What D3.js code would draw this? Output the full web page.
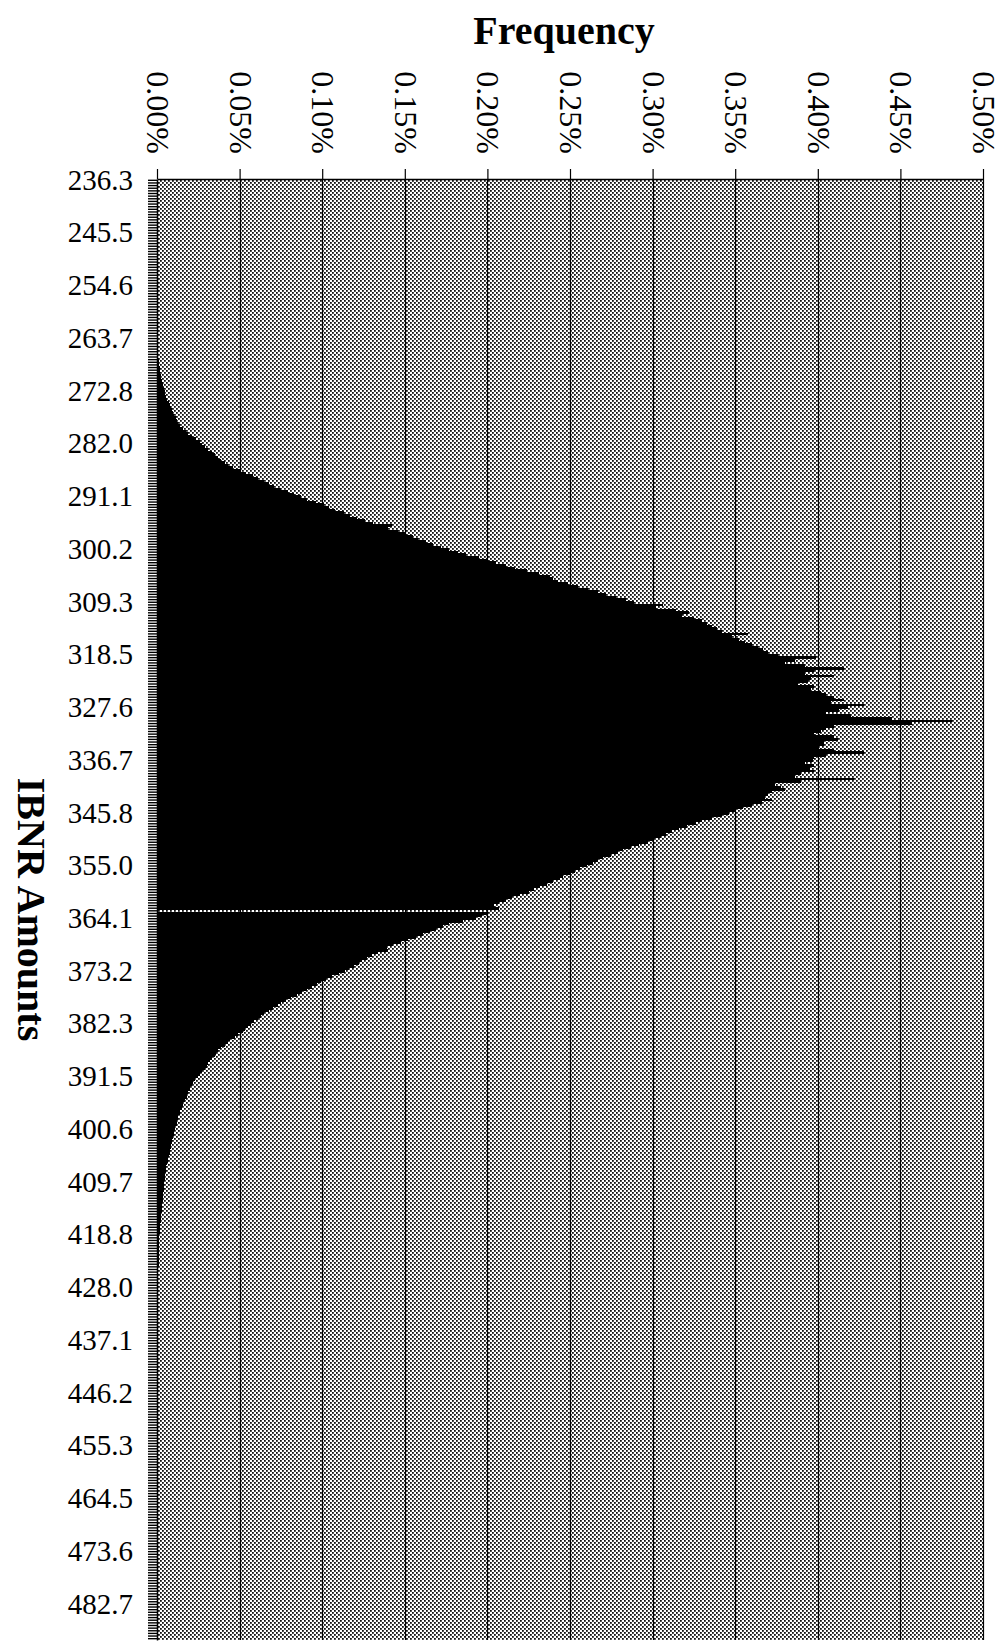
<!DOCTYPE html>
<html>
<head>
<meta charset="utf-8">
<script src="https://cdn.jsdelivr.net/npm/d3@7"></script>
<style>
  body { margin: 0; background: #fff; }
  svg { display: block; }
</style>
</head>
<body>
<svg id="chart"></svg>
<script>
// category labels shown on the IBNR axis (one every 20 bins)
const amountLabels = ["236.3","245.5","254.6","263.7","272.8","282.0","291.1","300.2","309.3","318.5",
  "327.6","336.7","345.8","355.0","364.1","373.2","382.3","391.5","400.6","409.7",
  "418.8","428.0","437.1","446.2","455.3","464.5","473.6","482.7"];
const binsPerLabel = 20;

// frequency axis ticks (percent)
const freqTicks = [0, 0.05, 0.10, 0.15, 0.20, 0.25, 0.30, 0.35, 0.40, 0.45, 0.50];
const freqLabels = ["0.00%","0.05%","0.10%","0.15%","0.20%","0.25%","0.30%","0.35%","0.40%","0.45%","0.50%"];

// frequency of each bin, in percent; one row per labelled group
const binValues = [
  // 236.3
  0,0,0,0,0,0,0,0,0,0,0,0,0,0,0,0,0,0,0,0,
  // 245.5
  0,0,0,0,0,0,0,0,0,0,0,0,0,0,0,0,0,0,0,0,
  // 254.6
  0,0,0,0,0,0,0,0,0,0,0,0,0,0,0,0,0,0,0,0,
  // 263.7
  0,0,0,0,0.0005,0.0006,0.0008,0.0009,0.001,0.0012,0.0014,0.0016,0.0018,0.002,0.0023,0.0027,0.003,0.0034,0.0038,0.0043,
  // 272.8
  0.0047,0.005,0.0056,0.0062,0.007,0.0076,0.0082,0.009,0.0097,0.0104,0.0112,0.012,0.013,0.0142,0.0158,0.0175,0.019,0.021,0.0235,0.026,
  // 282.0
  0.0275,0.029,0.031,0.033,0.035,0.037,0.039,0.041,0.043,0.046,0.05,0.054,0.058,0.061,0.065,0.068,0.071,0.075,0.079,0.083,
  // 291.1
  0.087,0.091,0.096,0.101,0.104,0.108,0.113,0.117,0.121,0.126,0.131,0.142,0.14,0.146,0.151,0.155,0.158,0.163,0.167,0.172,
  // 300.2
  0.177,0.182,0.187,0.195,0.2,0.205,0.211,0.217,0.224,0.231,0.238,0.24,0.243,0.249,0.255,0.261,0.267,0.272,0.278,0.284,
  // 309.3
  0.289,0.306,0.302,0.314,0.322,0.318,0.325,0.33,0.333,0.336,0.339,0.342,0.358,0.348,0.352,0.356,0.36,0.364,0.367,0.37,
  // 318.5
  0.376,0.399,0.386,0.38,0.392,0.416,0.398,0.392,0.41,0.396,0.394,0.388,0.398,0.396,0.402,0.405,0.41,0.416,0.408,0.428,
  // 327.6
  0.418,0.413,0.405,0.42,0.445,0.481,0.457,0.41,0.405,0.402,0.398,0.41,0.412,0.404,0.404,0.4,0.41,0.428,0.405,0.398,
  // 336.7
  0.397,0.392,0.398,0.395,0.398,0.39,0.386,0.422,0.39,0.374,0.378,0.38,0.372,0.37,0.368,0.372,0.366,0.36,0.355,0.35,
  // 345.8
  0.346,0.342,0.336,0.33,0.326,0.321,0.316,0.312,0.308,0.305,0.3,0.297,0.292,0.287,0.282,0.279,0.275,0.27,0.267,0.264,
  // 355.0
  0.26,0.256,0.253,0.25,0.246,0.244,0.24,0.236,0.232,0.228,0.225,0.22,0.215,0.211,0.207,0.204,0.207,0,0.2,0.197,
  // 364.1
  0.193,0.185,0.177,0.173,0.169,0.165,0.161,0.157,0.152,0.148,0.143,0.139,0.14,0.134,0.13,0.127,0.124,0.122,0.119,0.116,
  // 373.2
  0.114,0.11,0.106,0.102,0.099,0.097,0.094,0.091,0.088,0.085,0.081,0.078,0.075,0.073,0.07,0.068,0.065,0.063,0.061,0.059,
  // 382.3
  0.057,0.055,0.053,0.052,0.049,0.047,0.044,0.043,0.041,0.039,0.037,0.036,0.035,0.033,0.032,0.031,0.03,0.029,0.027,0.026,
  // 391.5
  0.025,0.023,0.022,0.021,0.02,0.02,0.019,0.018,0.018,0.017,0.016,0.016,0.015,0.014,0.014,0.013,0.013,0.012,0.012,0.011,
  // 400.6
  0.011,0.01,0.01,0.0095,0.009,0.0088,0.0085,0.0082,0.008,0.0076,0.0072,0.0068,0.0064,0.006,0.0057,0.0055,0.0053,0.0051,0.0049,0.0047,
  // 409.7
  0.0045,0.0044,0.0042,0.004,0.0039,0.0037,0.0036,0.0035,0.0033,0.0032,0.003,0.0029,0.0027,0.0026,0.0025,0.0023,0.0021,0.002,0.0018,0.0017,
  // 418.8
  0.0015,0.0015,0.0014,0.0014,0.0013,0.0013,0.0012,0.0012,0.0011,0.0011,0.001,0.001,0.0009,0.0009,0.0008,0.0008,0.0007,0.0007,0.0006,0.0006,
  // 428.0
  0.0005,0.0005,0.0004,0.0004,0.0003,0.0003,0.0002,0.0002,0.0001,0.0001,0,0,0,0,0,0,0,0,0,0,
  // 437.1
  0,0,0,0,0,0,0,0,0,0,0,0,0,0,0,0,0,0,0,0,
  // 446.2
  0,0,0,0,0,0,0,0,0,0,0,0,0,0,0,0,0,0,0,0,
  // 455.3
  0,0,0,0,0,0,0,0,0,0,0,0,0,0,0,0,0,0,0,0,
  // 464.5
  0,0,0,0,0,0,0,0,0,0,0,0,0,0,0,0,0,0,0,0,
  // 473.6
  0,0,0,0,0,0,0,0,0,0,0,0,0,0,0,0,0,0,0,0,
  // 482.7
  0,0,0,0,0,0,0,0,0,0,0,0,0,0
];

const serif = "'Liberation Serif', 'Times New Roman', serif";
const width = 1005;
const height = 1646;
const margin = { top: 179, right: 22, bottom: 6, left: 157 };

const svg = d3.select("#chart").attr("width", width).attr("height", height);

// stippled grey plot background
const pat = svg.append("defs").append("pattern")
  .attr("id", "stipple")
  .attr("patternUnits", "userSpaceOnUse")
  .attr("width", 4).attr("height", 4);
pat.append("rect").attr("width", 4).attr("height", 4).attr("fill", "#fff");
pat.append("rect").attr("x", 0).attr("y", 0).attr("width", 1.8).attr("height", 1.8).attr("fill", "#111");
pat.append("rect").attr("x", 2).attr("y", 2).attr("width", 1.8).attr("height", 1.8).attr("fill", "#111");

const x = d3.scaleLinear()
  .domain([0, 0.5])
  .range([margin.left, width - margin.right]);

const y = d3.scaleBand()
  .domain(d3.range(binValues.length))
  .range([margin.top, height - margin.bottom])
  .padding(0);

svg.append("rect")
  .attr("x", x(0)).attr("y", margin.top)
  .attr("width", x(0.5) - x(0))
  .attr("height", height - margin.bottom - margin.top)
  .attr("fill", "url(#stipple)");

// vertical gridlines
svg.append("g")
  .selectAll("line")
  .data(freqTicks.slice(1))
  .join("line")
  .attr("x1", d => Math.round(x(d)) + 0.5)
  .attr("x2", d => Math.round(x(d)) + 0.5)
  .attr("y1", margin.top)
  .attr("y2", height - margin.bottom)
  .attr("stroke", "#000")
  .attr("stroke-width", 1.2);

// bars
svg.append("g")
  .attr("shape-rendering", "crispEdges")
  .selectAll("rect")
  .data(binValues)
  .join("rect")
  .attr("x", x(0))
  .attr("y", (d, i) => y(i))
  .attr("width", d => x(d) - x(0))
  .attr("height", y.bandwidth())
  .attr("fill", "#000");

// top (frequency) axis
const topAxis = svg.append("g")
  .attr("transform", `translate(0,${margin.top})`)
  .call(d3.axisTop(x)
    .tickValues(freqTicks)
    .tickSize(10)
    .tickSizeOuter(0)
    .tickFormat((d, i) => freqLabels[i]));
topAxis.attr("font-family", serif);
topAxis.select(".domain").attr("stroke", "#000").attr("stroke-width", 1.5);
topAxis.selectAll(".tick line").attr("stroke", "#000").attr("stroke-width", 1.2);
topAxis.selectAll(".tick text")
  .attr("font-size", 32)
  .attr("fill", "#000")
  .attr("text-anchor", "end")
  .attr("x", 0)
  .attr("y", 0)
  .attr("dy", "0.33em")
  .attr("transform", "translate(0,-25) rotate(90)");

// left (IBNR amount) axis, one tick per bin
const leftAxis = svg.append("g")
  .attr("transform", `translate(${margin.left},0)`)
  .call(d3.axisLeft(y)
    .tickSize(9)
    .tickSizeOuter(0)
    .tickPadding(15)
    .tickFormat(i => i % binsPerLabel === 0 ? amountLabels[i / binsPerLabel] : ""));
leftAxis.attr("font-family", serif);
leftAxis.select(".domain").attr("stroke", "#000").attr("stroke-width", 1.5);
leftAxis.selectAll(".tick line").attr("stroke", "#000").attr("stroke-width", 1.4);
leftAxis.selectAll(".tick text")
  .attr("font-size", 29)
  .attr("fill", "#000");

// axis titles
svg.append("text")
  .attr("x", 564)
  .attr("y", 44)
  .attr("text-anchor", "middle")
  .attr("font-family", serif)
  .attr("font-size", 40)
  .attr("font-weight", "bold")
  .text("Frequency");

svg.append("text")
  .attr("transform", `translate(18,${(margin.top + height - margin.bottom) / 2}) rotate(90)`)
  .attr("text-anchor", "middle")
  .attr("font-family", serif)
  .attr("font-size", 40)
  .attr("font-weight", "bold")
  .text("IBNR Amounts");
</script>
</body>
</html>
